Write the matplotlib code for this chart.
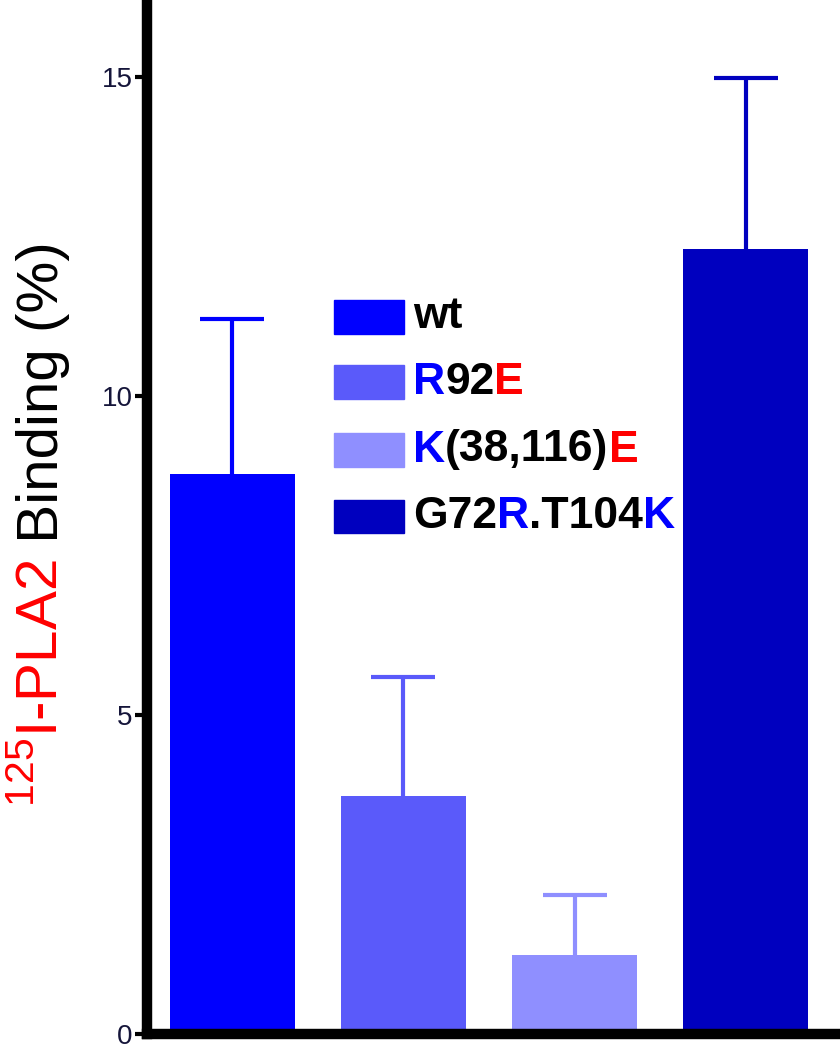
import matplotlib
matplotlib.use('Agg')
import matplotlib.pyplot as plt
from matplotlib.patches import Rectangle

# data
labels = ['wt', 'R92E', 'K(38,116)E', 'G72R.T104K']
means = [8.77, 3.73, 1.23, 12.3]
sems = [2.43, 1.86, 0.94, 2.68]
colors = ['#0000ff', '#5a5afa', '#8f8fff', '#0000bf']
yticks = [0, 5, 10, 15]

# legend labels as coloured pieces
legend_parts = [
    [('wt', 'black')],
    [('R', '#0000ff'), ('92', 'black'), ('E', '#ff0000')],
    [('K', '#0000ff'), ('(38,116)', 'black'), ('E', '#ff0000')],
    [('G72', 'black'), ('R', '#0000ff'), ('.T104', 'black'), ('K', '#0000ff')],
]

plt.rcParams['font.family'] = 'Liberation Sans'
plt.rcParams['mathtext.fontset'] = 'custom'
plt.rcParams['mathtext.rm'] = 'Liberation Sans'

W, H = 840, 1050
fig = plt.figure(figsize=(8.4, 10.5), dpi=100)
ax = fig.add_axes([146.5 / W, 16 / H, 1 - 146.5 / W, 1 - 16 / H])

x = list(range(len(labels)))
ax.bar(x, means, width=0.73, color=colors, zorder=2)
for xi, m, s, c in zip(x, means, sems, colors):
    _, caps, _ = ax.errorbar(xi, m, yerr=[[0], [s]], color=c, elinewidth=3,
                             capsize=23, capthick=3, zorder=1)
    caps[0].set_visible(False)  # no cap at the bar top

ax.set_xlim(-0.5, 3.55)
ax.set_ylim(0, 16.2)
ax.set_yticks(yticks)
ax.set_yticklabels([str(t) for t in yticks], fontsize=20, color='#15153a')
ax.set_xticks([])
ax.tick_params(axis='y', length=9, width=3, pad=1)
for side in ['top', 'right']:
    ax.spines[side].set_visible(False)
ax.spines['left'].set_linewidth(7.5)
ax.spines['bottom'].set_linewidth(7.5)
ax.spines['left'].set_zorder(3)
ax.spines['bottom'].set_zorder(3)

# y label in coloured pieces, reading bottom to top
t1 = fig.text(58 / W, 1 - 807 / H, r'$^{125}$I-PLA2', color='#ff0000', fontsize=42,
              rotation=90, rotation_mode='anchor', ha='left', va='baseline')
fig.canvas.draw()
bb = t1.get_window_extent()
fig.text(58 / W, bb.y1 / H, ' Binding (%)', color='black', fontsize=42,
         rotation=90, rotation_mode='anchor', ha='left', va='baseline')

# legend drawn by hand
row_y = [317, 382, 450, 516]
for parts, c, py in zip(legend_parts, colors, row_y):
    yf = 1 - py / H
    fig.patches.append(Rectangle((334 / W, yf - 16.5 / H), 70 / W, 33 / H,
                                 transform=fig.transFigure, color=c))
    prev = fig.text(413 / W, yf, parts[0][0], color=parts[0][1], fontsize=32,
                    fontweight='bold', ha='left', va='center')
    for s, col in parts[1:]:
        prev = ax.annotate(s, xy=(1, 0), xycoords=prev, fontsize=32, color=col,
                           fontweight='bold', ha='left', va='bottom',
                           annotation_clip=False)

fig.savefig('out.png', dpi=100)
